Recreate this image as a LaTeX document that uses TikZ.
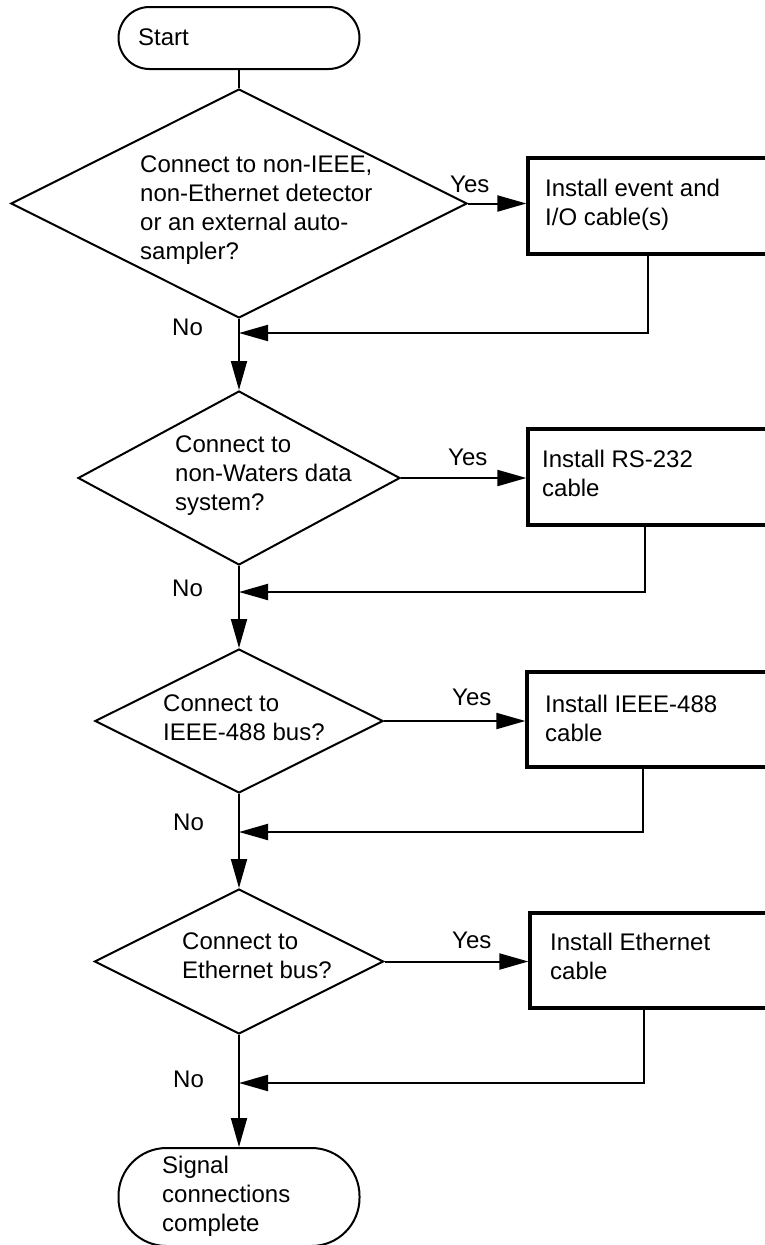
\documentclass[tikz,border=0pt]{standalone}
\usepackage{fontspec}
\setmainfont{Liberation Sans}
\usetikzlibrary{arrows.meta,shapes.geometric,calc}
\begin{document}
\begin{tikzpicture}[x=1pt,y=-1pt,
  line/.style={line width=2pt},
  arr/.style={line width=2pt,-{Triangle[length=29pt,width=16pt]}},
  term/.style={draw,line width=2pt,inner sep=0pt},
  dec/.style={draw,diamond,line width=2pt,inner sep=0pt},
  act/.style={draw,rectangle,line width=3.2pt,inner sep=0pt},
  txt/.style={inner sep=0pt,align=left,anchor=north west,font=\fontsize{24}{28.8}\selectfont},
  lbl/.style={inner sep=0pt,anchor=base west,font=\fontsize{24}{28.8}\selectfont}]
\useasboundingbox (0,0) rectangle (764,1245);

% shapes
\node[term,rounded corners=31pt,minimum width=241pt,minimum height=62pt] (start) at (239,38) {};
\node[dec,minimum width=456pt,minimum height=229pt] (d1) at (239,203.5) {};
\node[dec,minimum width=322pt,minimum height=174pt] (d2) at (239,478) {};
\node[dec,minimum width=288pt,minimum height=144pt] (d3) at (239,721) {};
\node[dec,minimum width=289pt,minimum height=145pt] (d4) at (239,961.5) {};
\node[act,minimum width=242pt,minimum height=96pt] (b1) at (649,206) {};
\node[act,minimum width=242pt,minimum height=96pt] (b2) at (649,477) {};
\node[act,minimum width=243pt,minimum height=95pt] (b3) at (648.5,719.5) {};
\node[act,minimum width=240pt,minimum height=95pt] (b4) at (650,960.5) {};
\node[term,rounded corners=48pt,minimum width=241pt,minimum height=98pt] (end) at (239,1197) {};

% texts
\node[txt] (tstart) at (138,28.8) {Start};
\node[txt] (td1) at (140,155.8) {Connect to non-IEEE,\\non-Ethernet detector\\or an external auto-\\sampler?};
\node[txt] (tb1) at (545,178.8) {Install event and\\I/O cable(s)};
\node[txt] (td2) at (175,435.8) {Connect to\\non-Waters data\\system?};
\node[txt] (tb2) at (542,449.8) {Install RS-232\\cable};
\node[txt] (td3) at (163,694.8) {Connect to\\IEEE-488 bus?};
\node[txt] (tb3) at (545,694.8) {Install IEEE-488\\cable};
\node[txt] (td4) at (182,932.8) {Connect to\\Ethernet bus?};
\node[txt] (tb4) at (550,932.8) {Install Ethernet\\cable};
\node[txt] (tend) at (162,1155.8) {Signal\\connections\\complete};

\node[lbl] (yes1) at (450,192) {Yes};
\node[lbl] (yes2) at (448,465) {Yes};
\node[lbl] (yes3) at (452,705) {Yes};
\node[lbl] (yes4) at (452,948) {Yes};
\node[lbl] (no1) at (172,335) {No};
\node[lbl] (no2) at (172,596) {No};
\node[lbl] (no3) at (173,830) {No};
\node[lbl] (no4) at (173,1087) {No};

% return points
\coordinate (r1) at (648,333);
\coordinate (r2) at (645,592);
\coordinate (r3) at (643,832);
\coordinate (r4) at (644,1083);

% connectors
\draw[line] (start.south) -- (d1.north);
\draw[arr] (d1.east) -- (d1.east -| b1.west);
\draw[arr] (d2.east) -- (d2.east -| b2.west);
\draw[arr] (d3.east) -- (d3.east -| b3.west);
\draw[arr] (d4.east) -- (d4.east -| b4.west);
\draw[arr] (d1.south) -- (d2.north);
\draw[arr] (d2.south) -- (d3.north);
\draw[arr] (d3.south) -- (d4.north);
\draw[arr] (d4.south) -- (end.north);
\draw[arr] (b1.south -| r1) |- (d1.south |- r1);
\draw[arr] (b2.south -| r2) |- (d2.south |- r2);
\draw[arr] (b3.south -| r3) |- (d3.south |- r3);
\draw[arr] (b4.south -| r4) |- (d4.south |- r4);
\end{tikzpicture}
\end{document}
